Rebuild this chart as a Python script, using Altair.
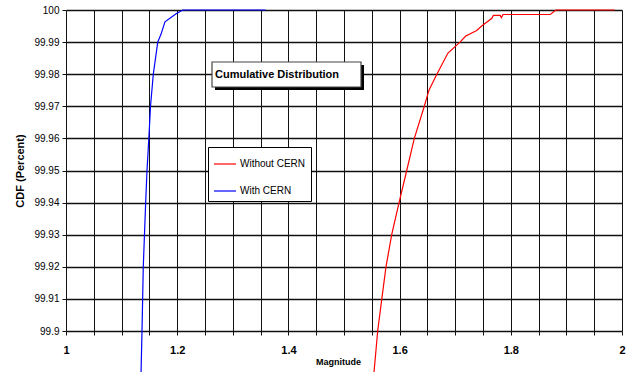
import altair as alt
import pandas as pd

# --- data ---
series_names = ["Without CERN", "With CERN"]
series_colors = ["#FF0000", "#0000FF"]

with_x = [1.135, 1.1367, 1.139, 1.1433, 1.1457, 1.149, 1.152, 1.157, 1.165, 1.171, 1.178, 1.198, 1.21, 1.359]
with_y = [99.8872, 99.90, 99.92, 99.94, 99.95, 99.96, 99.97, 99.98, 99.99, 99.9925, 99.9963, 99.9988, 100.0, 100.0]

without_x = [1.554, 1.5606, 1.568, 1.5755, 1.5858, 1.599, 1.6128, 1.6265, 1.6444, 1.653, 1.667, 1.687,
             1.7086, 1.719, 1.7387, 1.7476, 1.766, 1.7686, 1.781, 1.783, 1.786, 1.871, 1.881, 1.987]
without_y = [99.8872, 99.90, 99.91, 99.92, 99.93, 99.94, 99.95, 99.96, 99.97, 99.9751, 99.98, 99.9866,
             99.99, 99.9919, 99.9936, 99.995, 99.9974, 99.9983, 99.9983, 99.9976, 99.9986, 99.9986, 100.0, 100.0]

x_ticks = [1.0, 1.05, 1.1, 1.15, 1.2, 1.25, 1.3, 1.35, 1.4, 1.45, 1.5, 1.55, 1.6, 1.65, 1.7, 1.75,
           1.8, 1.85, 1.9, 1.95, 2.0]
y_ticks = [99.9, 99.91, 99.92, 99.93, 99.94, 99.95, 99.96, 99.97, 99.98, 99.99, 100.0]

chart_title = "Cumulative Distribution"

df = pd.concat([
    pd.DataFrame({"mag": without_x, "cdf": without_y, "series": series_names[0]}),
    pd.DataFrame({"mag": with_x, "cdf": with_y, "series": series_names[1]}),
])

lines = alt.Chart(df).mark_line(strokeWidth=1.2, clip=False).encode(
    x=alt.X("mag:Q",
            scale=alt.Scale(domain=[1, 2], nice=False, zero=False),
            axis=alt.Axis(values=x_ticks, title="Magnitude",
                          labelExpr="abs(datum.value*5 - round(datum.value*5)) < 0.001 ? format(datum.value, '~g') : ''",
                          labelOverlap=False, labelFlush=False,
                          grid=True, gridColor="#111111", gridWidth=1,
                          domain=False, tickColor="#111111", tickSize=4,
                          labelFont="Liberation Sans", labelFontSize=11, labelFontWeight="bold",
                          labelPadding=9, labelColor="black",
                          titleFont="Liberation Sans", titleFontSize=9, titleFontWeight="bold",
                          titlePadding=2, titleColor="black", titleX=272)),
    y=alt.Y("cdf:Q",
            scale=alt.Scale(domain=[99.9, 100], nice=False, zero=False),
            axis=alt.Axis(values=y_ticks, format="~g", title="CDF (Percent)",
                          grid=True, gridColor="#111111", gridWidth=1.4,
                          domain=False, tickColor="#111111", tickSize=4,
                          labelFont="Liberation Sans", labelFontSize=10, labelPadding=3,
                          labelColor="black",
                          titleFont="Liberation Sans", titleFontSize=11, titleFontWeight="bold",
                          titlePadding=8, titleColor="black")),
    color=alt.Color("series:N",
                    scale=alt.Scale(domain=series_names, range=series_colors),
                    legend=alt.Legend(title=None, orient="none", direction="vertical",
                                      legendX=142, legendY=137,
                                      symbolType="stroke", symbolSize=484, symbolStrokeWidth=1.2,
                                      strokeColor="black", fillColor="white", padding=5,
                                      rowPadding=10, labelFont="Liberation Sans", labelFontSize=10,
                                      labelOffset=3, labelLimit=200, labelColor="black")),
)

shadow = alt.Chart().mark_rect(color="black").encode(
    x=alt.value(149), x2=alt.value(298), y=alt.value(55), y2=alt.value(80))
box = alt.Chart().mark_rect(fill="white", stroke="#444444", strokeWidth=1.2).encode(
    x=alt.value(146), x2=alt.value(295), y=alt.value(52), y2=alt.value(77))
title_text = alt.Chart().mark_text(
    text=chart_title, font="Liberation Sans", fontSize=11, fontWeight="bold",
    align="left", baseline="middle", color="black").encode(
    x=alt.value(149), y=alt.value(65))

chart = alt.layer(lines, shadow, box, title_text).properties(
    width=556, height=321,
    padding={"left": 66, "top": 10, "right": 8, "bottom": 41},
    autosize="none",
    background="white",
).configure_view(stroke=None)

chart.save("out.html", embed_options={"renderer": "svg", "actions": False})
